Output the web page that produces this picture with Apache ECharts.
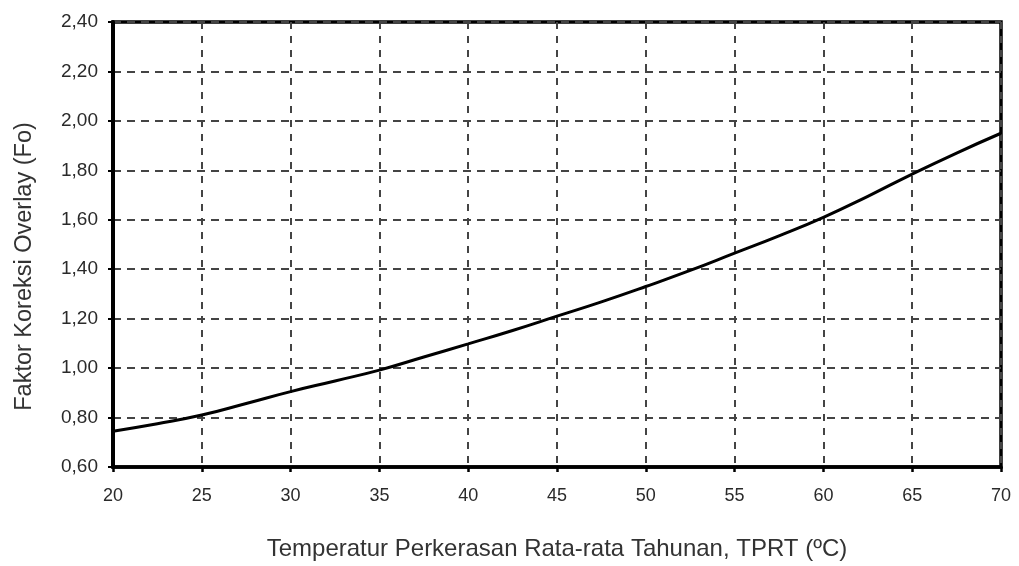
<!DOCTYPE html>
<html>
<head>
<meta charset="utf-8">
<script src="https://cdn.jsdelivr.net/npm/echarts@6/dist/echarts.min.js"></script>
<style>
  html, body { margin: 0; padding: 0; background: #fff; }
  #chart { width: 1019px; height: 566px; }
</style>
</head>
<body>
<div id="chart"></div>
<script>
// Temperature (°C) and overlay correction factor Fo
const temperatures = [20, 22.5, 25, 27.5, 30, 32.5, 35, 37.5, 40, 42.5, 45, 47.5, 50, 52.5, 55, 57.5, 60, 62.5, 65, 67.5, 70];
const factorFo = [0.745, 0.775, 0.81, 0.857, 0.905, 0.948, 0.992, 1.045, 1.098, 1.152, 1.21, 1.268, 1.33, 1.395, 1.465, 1.535, 1.61, 1.695, 1.785, 1.87, 1.95];

const xName = 'Temperatur Perkerasan Rata-rata Tahunan, TPRT (ºC)';
const yName = 'Faktor Koreksi Overlay (Fo)';

const font = '"Liberation Sans", Arial, sans-serif';
const chart = echarts.init(document.getElementById('chart'));

chart.setOption({
  animation: false,
  backgroundColor: '#fff',
  grid: {
    left: 113, right: 18, top: 22, bottom: 99,
    show: true, borderColor: '#000', borderWidth: 3.5
  },
  xAxis: {
    type: 'value', min: 20, max: 70, interval: 5,
    name: xName, nameLocation: 'middle', nameGap: 70,
    nameTextStyle: { fontFamily: font, fontSize: 24, color: '#333' },
    axisLine: { show: true, lineStyle: { color: '#000', width: 3.5 } },
    axisTick: { show: true, length: 5, lineStyle: { color: '#000', width: 2.5 } },
    axisLabel: { fontFamily: font, fontSize: 18, color: '#2a2a2a', margin: 20 },
    splitLine: { show: true, lineStyle: { color: '#444', width: 2, type: [7, 7] } }
  },
  yAxis: {
    type: 'value', min: 0.6, max: 2.4, interval: 0.2,
    name: yName, nameLocation: 'middle', nameGap: 76,
    nameTextStyle: { fontFamily: font, fontSize: 23.5, color: '#333', padding: [0, 44, 0, 0] },
    axisLine: { show: true, lineStyle: { color: '#000', width: 4 } },
    axisTick: { show: true, length: 5, lineStyle: { color: '#000', width: 2 } },
    axisLabel: {
      fontFamily: font, fontSize: 19, color: '#2a2a2a', margin: 15,
      formatter: v => v.toFixed(2).replace('.', ',')
    },
    splitLine: { show: true, lineStyle: { color: '#444', width: 1.8, type: [8, 6] } }
  },
  series: [{
    type: 'line',
    data: temperatures.map((t, i) => [t, factorFo[i]]),
    smooth: true,
    showSymbol: false,
    lineStyle: { color: '#000', width: 3 }
  }]
});
</script>
</body>
</html>
